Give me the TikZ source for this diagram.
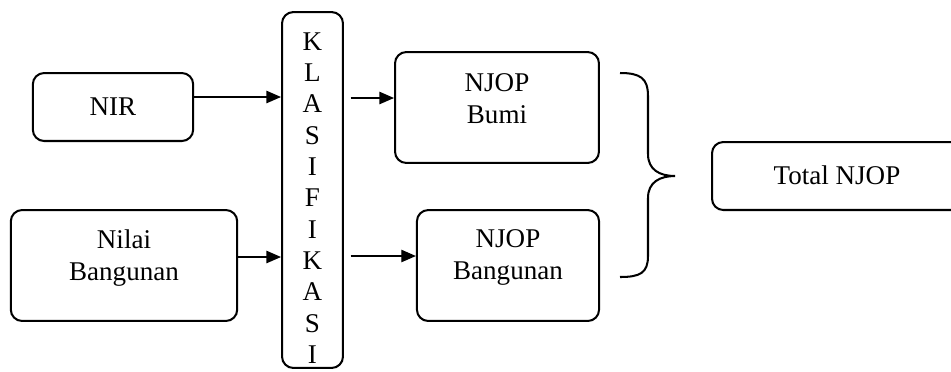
\documentclass[tikz,border=0pt]{standalone}
\usepackage{fontspec}
\setmainfont{Liberation Serif}
\usepackage{tikz}
\usetikzlibrary{arrows.meta,positioning,calc}
\tikzset{
  box/.style={draw, rounded corners=5pt, line width=.9pt, fill=white, inner sep=0pt},
  txt/.style={align=center, font=\fontsize{12}{14.2}\selectfont},
  ar/.style={-{Triangle[length=6.5pt,width=5.5pt]}, line width=.6pt},
}

\begin{document}
\begin{tikzpicture}[x=0.0156cm, y=-0.0156cm]
  \useasboundingbox (0,0) rectangle (951,371);
  % input boxes
  \node[box, minimum width=2.5cm, minimum height=1.06cm, txt] (nir) at (113,107) {NIR};
  \node[box, minimum width=3.53cm, minimum height=1.73cm,
        label={[txt, yshift=3.5pt]center:Nilai\\Bangunan}] (nilai) at (124,265.5) {};
  % tall box with the letters stacked
  \node[box, minimum width=0.95cm, minimum height=5.55cm] (klas) at (312.5,190) {};
  \begin{scope}
    \clip (klas.north west) rectangle ([yshift=2.4pt]klas.south east);
    \node[align=center, inner sep=0pt, anchor=north,
          font=\fontsize{12}{13.9}\selectfont] (huruf) at (312.5,32)
      {K\\L\\A\\S\\I\\F\\I\\K\\A\\S\\I};
  \end{scope}
  % results
  \node[box, minimum width=3.18cm, minimum height=1.73cm,
        label={[txt, yshift=3.7pt]center:NJOP\\Bumi}] (bumi) at (497,107.5) {};
  \node[box, minimum width=2.84cm, minimum height=1.73cm,
        label={[txt, yshift=3.5pt]center:NJOP\\Bangunan}] (bangunan) at (508,265.5) {};
  % runs off the right edge
  \node[box, minimum width=4.4cm, minimum height=1.06cm, anchor=west] (total) at (711,176) {};
  \node[txt] (totaltxt) at (837,175) {Total NJOP};
  % arrows
  \draw[ar] (nir.east |- 0,97) -- (klas.west |- 0,97);
  \draw[ar] (nilai.east |- 0,257) -- (klas.west |- 0,257);
  \draw[ar] ([xshift=3pt]klas.east |- 0,98) -- (bumi.west |- 0,98);
  \draw[ar] ([xshift=3pt]klas.east |- 0,256) -- (bangunan.west |- 0,256);
  % brace
  \draw[line width=.9pt] (620,73) .. controls (640,73) and (648,78) .. (648,96) -- (648,154)
    .. controls (648,170) and (660,176) .. (675,176)
    .. controls (660,176) and (648,182) .. (648,198) -- (648,256)
    .. controls (648,273) and (640,277) .. (620,277);
\end{tikzpicture}
\end{document}
